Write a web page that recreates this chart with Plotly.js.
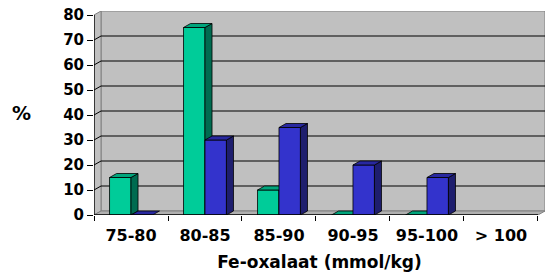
<!DOCTYPE html>
<html>
<head>
<meta charset="utf-8">
<script src="https://cdn.plot.ly/plotly-3.0.1.min.js"></script>
<style>html,body{margin:0;padding:0;background:#fff}#chart{width:546px;height:280px}</style>
</head>
<body>
<div id="chart"></div>
<script>
// ---- data ----
var categories = ['75-80', '80-85', '85-90', '90-95', '95-100', '> 100'];
var greenValues = [15, 75, 10, 0, 0, null];
var blueValues = [0, 30, 35, 20, 15, null];
var yTicks = [0, 10, 20, 30, 40, 50, 60, 70, 80];
var xTitle = 'Fe-oxalaat (mmol/kg)';
var yTitle = '%';

// ---- styling / pseudo-3D geometry ----
var dx = 0.095;   // depth shift in category units
var dy = 1.6;     // depth shift in value units
var barW = 0.29;
var yMax = 80;
var nCat = categories.length;
var xLo = -0.5, xHi = nCat - 0.5;
var FONT = 'DejaVu Sans';

function polys(vals, off) {
  var f = {x: [], y: []}, s = {x: [], y: []}, t = {x: [], y: []};
  function add(o, pts) {
    pts.push(pts[0]);
    pts.forEach(function (p) { o.x.push(p[0]); o.y.push(p[1]); });
    o.x.push(null); o.y.push(null);
  }
  vals.forEach(function (v, i) {
    if (v === null || v === undefined) return;
    var x0 = i + off, x1 = x0 + barW;
    if (v > 0) {
      add(f, [[x0, 0], [x1, 0], [x1, v], [x0, v]]);
      add(s, [[x1, 0], [x1 + dx, dy], [x1 + dx, v + dy], [x1, v]]);
    }
    add(t, [[x0, v], [x1, v], [x1 + dx, v + dy], [x0 + dx, v + dy]]);
  });
  return [f, s, t];
}

function faceTraces(vals, off, cols, name) {
  var p = polys(vals, off);
  return p.map(function (o, k) {
    return {
      type: 'scatter', mode: 'lines', x: o.x, y: o.y, fill: 'toself',
      fillcolor: cols[k], line: {color: '#000000', width: 0.8},
      hoverinfo: 'skip', showlegend: false, name: name
    };
  });
}

var data = []
  .concat(faceTraces(greenValues, -barW, ['#00CC99', '#006B50', '#00A57C'], 'green'))
  .concat(faceTraces(blueValues, 0, ['#3333CC', '#1E1E6E', '#2828A0'], 'blue'));

// ---- walls & gridlines ----
var shapes = [];
shapes.push({type: 'rect', layer: 'below', xref: 'x', yref: 'y',
  x0: xLo + dx, x1: xHi + dx, y0: dy, y1: yMax + dy,
  fillcolor: '#C0C0C0', line: {color: '#808080', width: 1}});
shapes.push({type: 'path', layer: 'below', xref: 'x', yref: 'y',
  path: 'M' + xLo + ',0 L' + xLo + ',' + yMax + ' L' + (xLo + dx) + ',' + (yMax + dy) +
        ' L' + (xLo + dx) + ',' + dy + ' Z',
  fillcolor: '#C0C0C0', line: {color: '#808080', width: 1}});
yTicks.forEach(function (v) {
  if (v === 0 || v === yMax) return;
  shapes.push({type: 'path', layer: 'below', xref: 'x', yref: 'y',
    path: 'M' + xLo + ',' + v + ' L' + (xLo + dx) + ',' + (v + dy) + ' L' + (xHi + dx) + ',' + (v + dy),
    line: {color: '#000000', width: 1}});
});
shapes.push({type: 'path', layer: 'below', xref: 'x', yref: 'y',
  path: 'M' + xLo + ',0 L' + xHi + ',0 L' + (xHi + dx) + ',' + dy + ' L' + (xLo + dx) + ',' + dy + ' Z',
  fillcolor: '#B0B0B0', line: {color: '#808080', width: 1}});
// axis lines
shapes.push({type: 'line', layer: 'above', xref: 'x', yref: 'y', x0: xLo, x1: xLo, y0: 0, y1: yMax,
  line: {color: '#000000', width: 1.3}});
shapes.push({type: 'line', layer: 'above', xref: 'x', yref: 'y', x0: xLo, x1: xHi, y0: 0, y1: 0,
  line: {color: '#000000', width: 1.3}});

var boundaries = [];
for (var b = 0; b <= nCat; b++) boundaries.push(b - 0.5);

var layout = {
  width: 546, height: 280,
  margin: {l: 94, r: 1, t: 11, b: 65},
  paper_bgcolor: '#ffffff', plot_bgcolor: '#ffffff',
  showlegend: false,
  font: {family: FONT, color: '#000000'},
  xaxis: {
    range: [xLo, xHi + dx], showgrid: false, zeroline: false, showline: false,
    tickmode: 'array', tickvals: categories.map(function (c, i) { return i; }), ticktext: categories,
    ticks: '', ticklabelstandoff: 9,
    tickfont: {family: FONT, size: 16, weight: 'bold', color: '#000'},
    minor: {tickmode: 'array', tickvals: boundaries, ticks: 'outside', ticklen: 5, tickcolor: '#000', tickwidth: 1, showgrid: false},
    title: {text: xTitle, font: {family: FONT, size: 17, weight: 'bold', color: '#000'}, standoff: 12},
    fixedrange: true
  },
  yaxis: {
    range: [0, yMax + dy], showgrid: false, zeroline: false, showline: false,
    tickmode: 'array', tickvals: yTicks, ticks: 'outside', ticklen: 6, tickcolor: '#000', tickwidth: 1,
    tickfont: {family: FONT, size: 15, weight: 'bold', color: '#000'},
    fixedrange: true
  },
  shapes: shapes,
  annotations: [{
    text: yTitle, xref: 'paper', yref: 'paper', x: -0.16, y: 0.5, xanchor: 'center', yanchor: 'middle',
    showarrow: false, font: {family: FONT, size: 19, weight: 'bold', color: '#000'}
  }]
};

Plotly.newPlot('chart', data, layout, {staticPlot: true, displayModeBar: false});
</script>
</body>
</html>
